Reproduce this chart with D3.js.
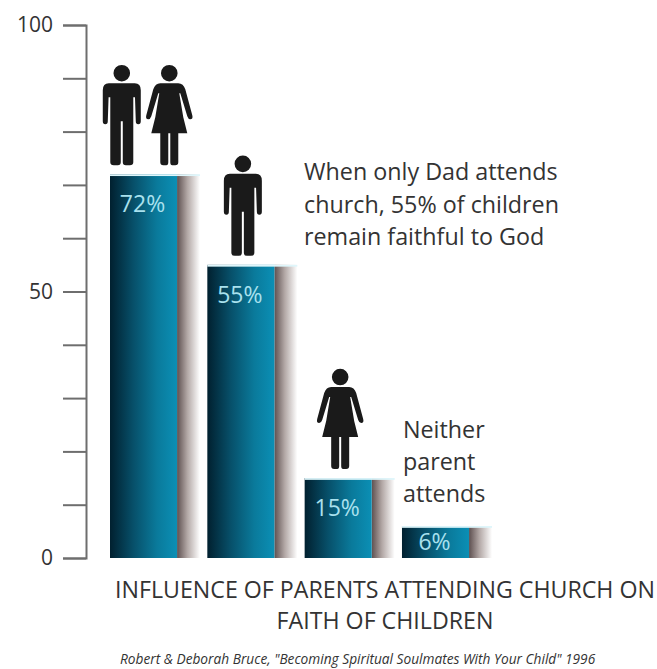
<!DOCTYPE html>
<html>
<head>
<meta charset="utf-8">
<script src="https://cdn.jsdelivr.net/npm/d3@7"></script>
<style>
  html, body { margin: 0; padding: 0; background: #fff; }
  svg { display: block; }
  text { font-family: "Open Sans", sans-serif; fill: #333; }
</style>
</head>
<body>
<svg class="chart" width="657" height="669"></svg>
<script>
const categories = ["Both", "Dad", "Mom", "Neither"];
const values = [72, 55, 15, 6];
const people = [["man", "woman"], ["man"], ["woman"], []];
const tickValues = d3.range(0, 101, 10);
const tickLabels = [0, 50, 100];
const dadNote = ["When only Dad attends", "church, 55% of children", "remain faithful to God"];
const neitherNote = ["Neither", "parent", "attends"];
const title = ["INFLUENCE OF PARENTS ATTENDING CHURCH ON", "FAITH OF CHILDREN"];
const source = "Robert & Deborah Bruce, \"Becoming Spiritual Soulmates With Your Child\" 1996";

const x = d3.scaleBand().domain(categories).range([110, 492]).paddingInner(0.075);
const y = d3.scaleLinear().domain([0, 100]).range([558, 25]);
const solidWidth = x.bandwidth() * 0.745;

// pictograms, drawn around x=0 with the feet on y=0
const symbols = {
  man: "M-8.3,-92a8.3,8.3 0 1,0 16.6,0a8.3,8.3 0 1,0 -16.6,0Z" +
    "M-13,-82L13,-82Q19,-82 19,-75L19,-44Q19,-41 16.5,-41Q14,-41 14,-44L13.2,-68L11.5,-68L11.5,-3Q11.5,0 8,0L4,0Q1,0 1,-3L1,-44L-1,-44L-1,-3Q-1,0 -4,0L-8,0Q-11.5,0 -11.5,-3L-11.5,-68L-13.2,-68L-14,-44Q-14,-41 -16.5,-41Q-19,-41 -19,-44L-19,-75Q-19,-82 -13,-82Z",
  woman: "M-8.3,-92a8.3,8.3 0 1,0 16.6,0a8.3,8.3 0 1,0 -16.6,0Z" +
    "M-9,-82L9,-82Q14,-82 16,-76L23,-50Q24,-46 21,-46Q19,-46 18,-49L11,-72L10,-72L14,-48L18,-32L9,-32L9,-3Q9,0 6,0L3,0Q1,0 1,-3L1,-32L-1,-32L-1,-3Q-1,0 -3,0L-6,0Q-9,0 -9,-3L-9,-32L-18,-32L-14,-48L-10,-72L-11,-72L-18,-49Q-19,-46 -21,-46Q-24,-46 -23,-50L-16,-76Q-14,-82 -9,-82Z"
};

const svg = d3.select(".chart");
const defs = svg.append("defs");

const barGrad = defs.append("linearGradient").attr("id", "barGrad");
barGrad.append("stop").attr("offset", "0%").attr("stop-color", "#01202f");
barGrad.append("stop").attr("offset", "35%").attr("stop-color", "#07506a");
barGrad.append("stop").attr("offset", "70%").attr("stop-color", "#0a7a9b");
barGrad.append("stop").attr("offset", "100%").attr("stop-color", "#0b8fb5");

const shadeGrad = defs.append("linearGradient").attr("id", "shadeGrad");
shadeGrad.append("stop").attr("offset", "0%").attr("stop-color", "#5e5050");
shadeGrad.append("stop").attr("offset", "45%").attr("stop-color", "#b3a8a6");
shadeGrad.append("stop").attr("offset", "100%").attr("stop-color", "#ffffff");

// axis
const yAxis = d3.axisLeft(y)
  .tickValues(tickValues)
  .tickSize(23)
  .tickPadding(10)
  .tickFormat(d => tickLabels.includes(d) ? d : "");

const axisG = svg.append("g")
  .attr("transform", "translate(86,0)")
  .call(yAxis);
axisG.selectAll("path, line").attr("stroke", "#6e6e6e").attr("stroke-width", 2);
axisG.selectAll("text").style("font-size", "21px").style("font-family", "\"Open Sans\", sans-serif").attr("fill", "#333");

// bars
const bars = svg.append("g").selectAll("g")
  .data(categories.map((c, i) => ({c: c, v: values[i], who: people[i]})))
  .enter().append("g")
  .attr("transform", d => `translate(${x(d.c)},0)`);

bars.append("rect")
  .attr("x", solidWidth)
  .attr("y", d => y(d.v))
  .attr("width", x.bandwidth() - solidWidth)
  .attr("height", d => y(0) - y(d.v))
  .attr("fill", "url(#shadeGrad)");

bars.append("rect")
  .attr("y", d => y(d.v))
  .attr("width", solidWidth)
  .attr("height", d => y(0) - y(d.v))
  .attr("fill", "url(#barGrad)");

// pale lip along the top of each bar
bars.append("rect")
  .attr("y", d => y(d.v))
  .attr("width", x.bandwidth())
  .attr("height", 1.8)
  .attr("fill", "#dff6fb");

bars.append("text")
  .attr("x", solidWidth / 2 - 1)
  .attr("y", d => y(d.v) + Math.min(38, (y(0) - y(d.v)) / 2 + 8))
  .attr("text-anchor", "middle")
  .style("font-size", "23px")
  .style("fill", "#a9e1ee")
  .text(d => d.v + "%");

// people standing on the bars
bars.each(function(d) {
  const spread = d.who.length > 1 ? 23.75 : 0;
  d3.select(this).selectAll("path")
    .data(d.who)
    .enter().append("path")
    .attr("d", w => symbols[w])
    .attr("fill", "#1a1a1a")
    .attr("transform", (w, i) => {
      const cx = solidWidth / 2 + (i ? spread : -spread) + 2;
      return `translate(${cx},${y(d.v) - 9})`;
    });
});

// notes
function lines(rows, px, py, step, size) {
  svg.append("g").selectAll("text")
    .data(rows)
    .enter().append("text")
    .attr("x", px)
    .attr("y", (d, i) => py + i * step)
    .style("font-size", size + "px")
    .text(d => d);
}
lines(dadNote, 304, 180, 32.5, 23.3);
lines(neitherNote, 403, 438, 32, 23.3);

svg.append("g").selectAll("text")
  .data(title)
  .enter().append("text")
  .attr("x", 385)
  .attr("y", (d, i) => 598 + i * 31)
  .attr("text-anchor", "middle")
  .style("font-size", "23.2px")
  .text(d => d);

svg.append("text")
  .attr("x", 120)
  .attr("y", 664)
  .style("font-size", "13.7px")
  .style("font-style", "italic")
  .text(source);
</script>
</body>
</html>
